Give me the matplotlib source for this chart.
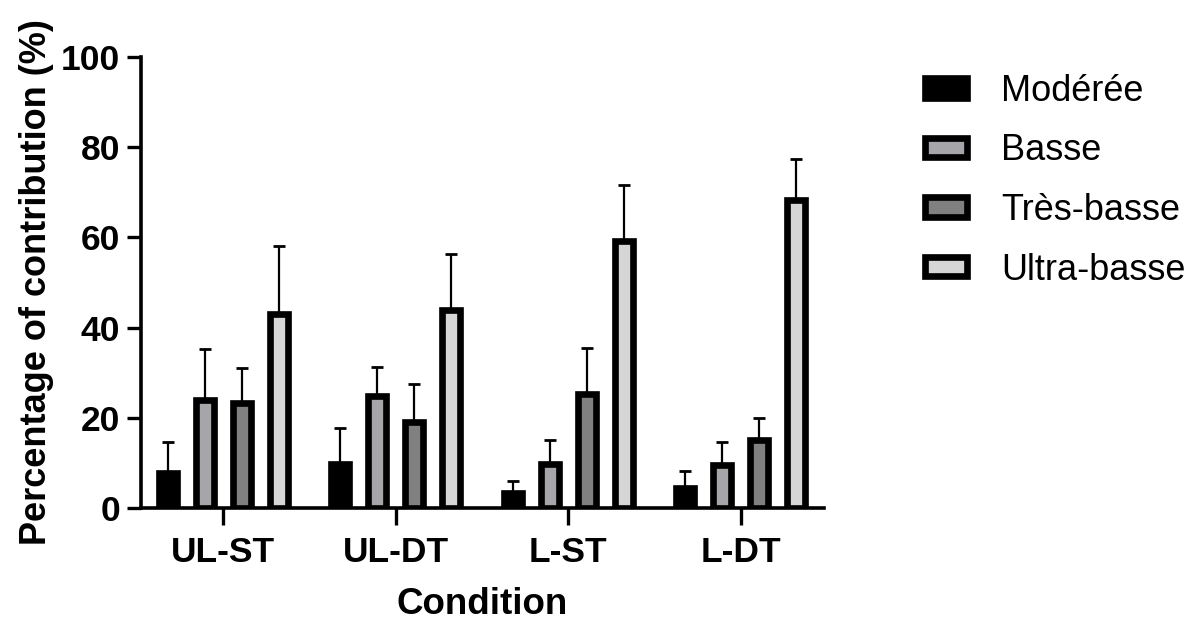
import numpy as np
import matplotlib.pyplot as plt
from matplotlib.patches import Patch

plt.rcParams['font.family'] = ['Liberation Sans', 'DejaVu Sans']

conditions = ["UL-ST", "UL-DT", "L-ST", "L-DT"]
series = ["Modérée", "Basse", "Très-basse", "Ultra-basse"]
colors = ["#000000", "#a6a5aa", "#808080", "#d6d6d6"]

# mean values per condition (rows = series)
moderee = [7.8, 9.8, 3.3, 4.4]
basse = [24.0, 24.9, 9.8, 9.5]
tres_basse = [23.3, 19.0, 25.3, 15.1]
ultra_basse = [43.0, 44.0, 59.3, 68.3]
# upper error (SD)
moderee_err = [6.8, 7.9, 2.6, 3.8]
basse_err = [11.3, 6.4, 5.3, 5.2]
tres_basse_err = [7.8, 8.6, 10.2, 4.8]
ultra_basse_err = [15.2, 12.4, 12.3, 9.1]

means = [moderee, basse, tres_basse, ultra_basse]
errs = [moderee_err, basse_err, tres_basse_err, ultra_basse_err]

fig = plt.figure(figsize=(11.97, 6.21), dpi=100)
ax = fig.add_axes([0.118, 0.182, 0.57, 0.726])

x = np.arange(len(conditions))
step = 0.215
width = 0.105
for i in range(4):
    pos = x + (i - 1.5) * step
    ax.errorbar(pos, means[i], yerr=[np.zeros(4), errs[i]], fmt="none",
                ecolor="black", elinewidth=1.6, capsize=4, capthick=2, zorder=1)
    ax.bar(pos, means[i], width=width, color=colors[i], edgecolor="black",
           linewidth=4.8, zorder=2)

ax.set_xlim(-0.476, 3.48)
ax.set_ylim(0, 100)
ax.set_yticks([0, 20, 40, 60, 80, 100])
ax.set_xticks(x)
ax.set_xticklabels(conditions)

for s in ["top", "right"]:
    ax.spines[s].set_visible(False)
for s in ["left", "bottom"]:
    ax.spines[s].set_linewidth(2.6)
ax.tick_params(axis="y", length=10, width=2.4, labelsize=25.5, pad=5)
ax.tick_params(axis="x", length=12, width=2.4, labelsize=25.5, pad=8)
for lab in ax.get_xticklabels() + ax.get_yticklabels():
    lab.set_fontweight("bold")

ax.set_xlabel("Condition", fontsize=26.5, fontweight="bold", labelpad=13)
ax.set_ylabel("Percentage of contribution (%)", fontsize=26, fontweight="bold", labelpad=5)

handles = [Patch(facecolor=c, edgecolor="black", linewidth=4.8) for c in colors]
fig.legend(handles, series, loc="upper left", bbox_to_anchor=(0.773, 0.881),
           frameon=False, fontsize=26, handlelength=1.15, handleheight=0.45,
           labelspacing=0.68, handletextpad=0.95, borderpad=0, borderaxespad=0)

fig.savefig("out.png", dpi=100)
